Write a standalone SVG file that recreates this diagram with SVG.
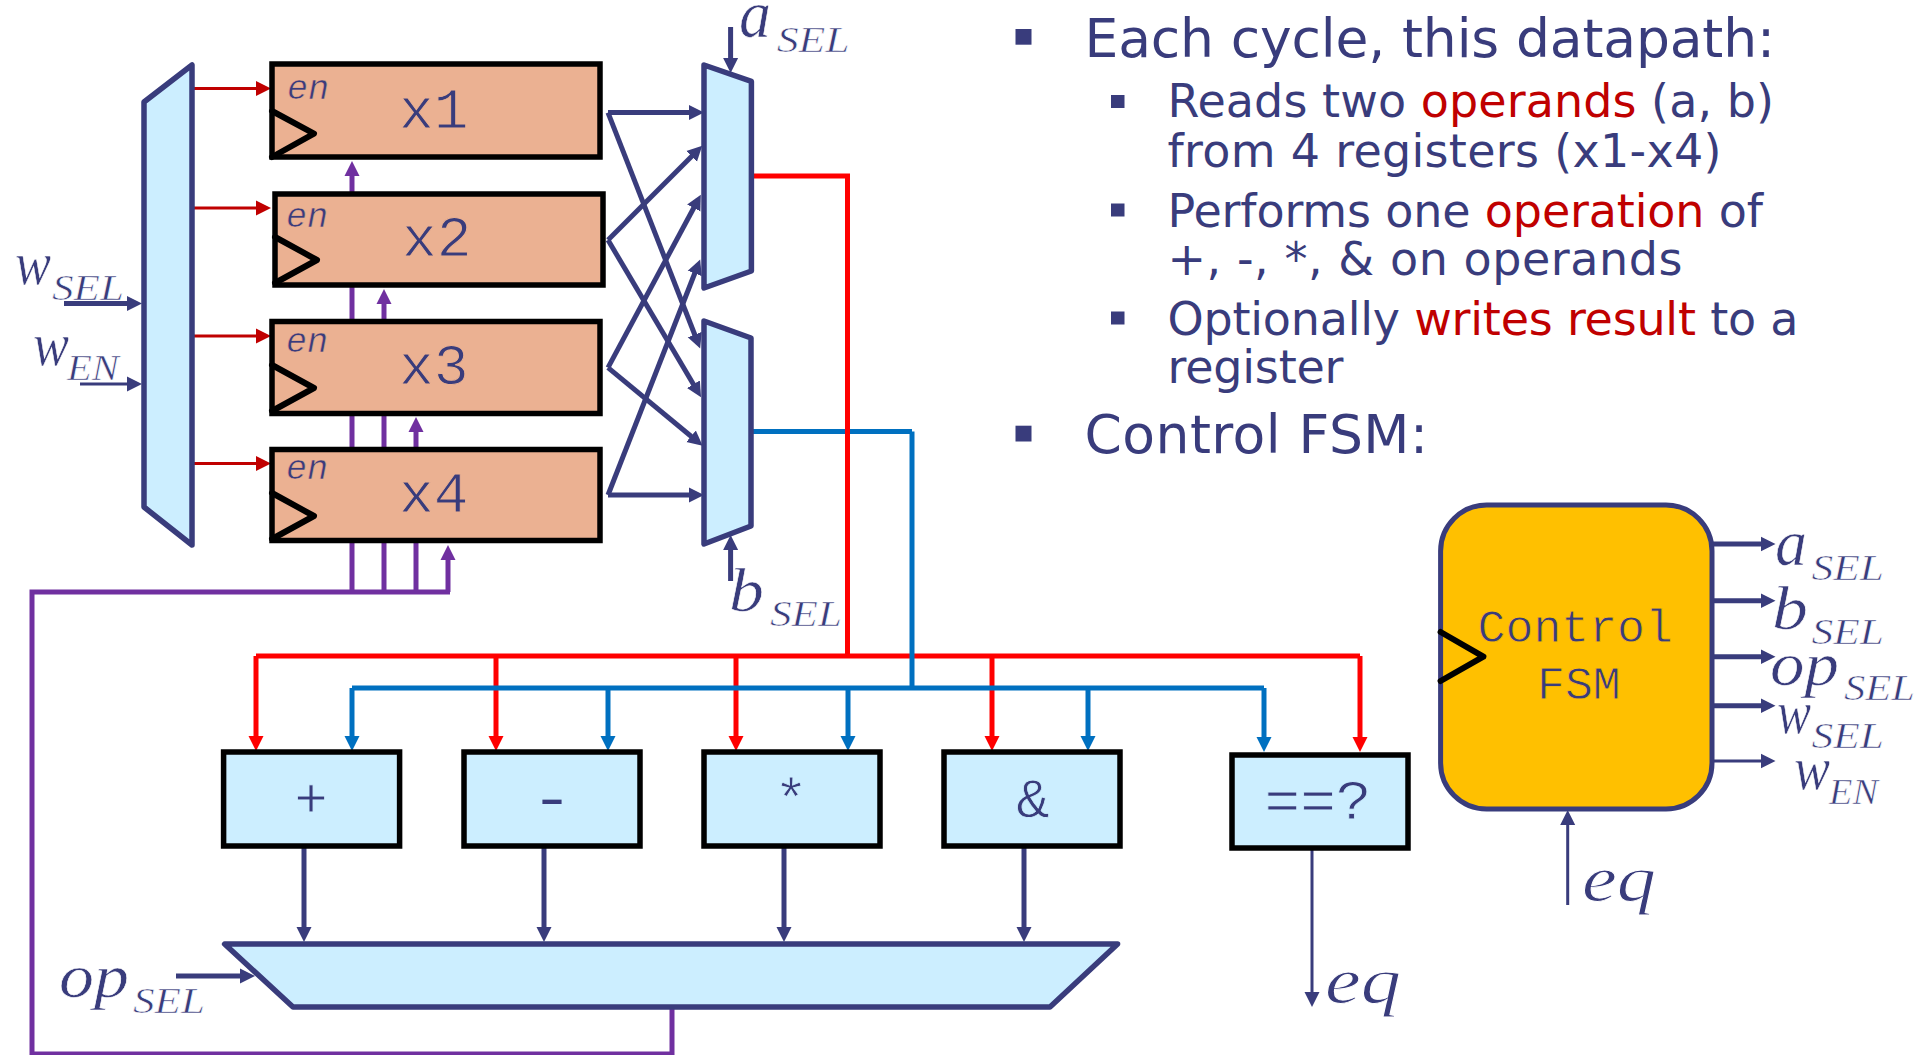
<svg xmlns="http://www.w3.org/2000/svg" width="1917" height="1055" viewBox="0 0 1917 1055">
<style>
text{fill:#393c7c}
.mono{font-family:"Liberation Mono",monospace}
.reg{font-size:58px;stroke:#ebb192;stroke-width:1}
.op{font-size:56px;stroke:#cceeff;stroke-width:.8}
.en{font-size:35px;font-style:italic;stroke:#ebb192;stroke-width:.5}
.ctl{font-size:46.5px;stroke:#ffc000;stroke-width:.8}
.sym{font-family:"Liberation Serif",serif;font-style:italic;stroke:#fff;stroke-width:.6}
.big{font-size:62px}
.sub{font-size:36px}
.eq{font-size:66px;stroke-width:.9}
.bul{font-family:"DejaVu Sans",sans-serif}
.l1{font-size:53.5px}
.l2{font-size:46px}
.hot{fill:#c00000}
.sq{fill:#393c7c}
.regbox{fill:#ebb192;stroke:#000;stroke-width:5.5}
.alu{fill:#cceeff;stroke:#000;stroke-width:5.5}
.mux{fill:#cceeff;stroke:#393c7c;stroke-width:5.5;stroke-linejoin:round}
.clk{fill:none;stroke:#000;stroke-width:6;stroke-linecap:round;stroke-linejoin:round}
.w{fill:none;stroke-linejoin:miter}
.navy{stroke:#393c7c;stroke-width:5}
.thin{stroke:#393c7c;stroke-width:3}
.red{stroke:#f00;stroke-width:5}
.blue{stroke:#0070c0;stroke-width:5}
.pur{stroke:#7030a0;stroke-width:5}
.dred{stroke:#c00000;stroke-width:3}
.an{marker-end:url(#hn)}
.ar{marker-end:url(#hr)}
.ab{marker-end:url(#hb)}
.ap{marker-end:url(#hp)}
.ad{marker-end:url(#hd)}
</style>
<defs>
<marker id="hn" markerUnits="userSpaceOnUse" markerWidth="16" markerHeight="16" refX="9" refY="8" orient="auto"><path d="M0,0.5L15,8L0,15.5z" fill="#393c7c"/></marker>
<marker id="hr" markerUnits="userSpaceOnUse" markerWidth="16" markerHeight="16" refX="9" refY="8" orient="auto"><path d="M0,0.5L15,8L0,15.5z" fill="#f00"/></marker>
<marker id="hb" markerUnits="userSpaceOnUse" markerWidth="16" markerHeight="16" refX="9" refY="8" orient="auto"><path d="M0,0.5L15,8L0,15.5z" fill="#0070c0"/></marker>
<marker id="hp" markerUnits="userSpaceOnUse" markerWidth="16" markerHeight="16" refX="9" refY="8" orient="auto"><path d="M0,0.5L15,8L0,15.5z" fill="#7030a0"/></marker>
<marker id="hd" markerUnits="userSpaceOnUse" markerWidth="16" markerHeight="16" refX="9" refY="8" orient="auto"><path d="M0,0.5L15,8L0,15.5z" fill="#c00000"/></marker>
</defs>

<g id="connectors" class="w">
<path class="dred ad" d="M192,88.5H265"/>
<path class="dred ad" d="M192,208H265"/>
<path class="dred ad" d="M192,336H265"/>
<path class="dred ad" d="M192,463.6H265"/>
<path class="navy an" d="M64,303.5H136"/>
<path class="thin an" d="M80,384H136"/>
<path class="pur" d="M672,1007V1054H32V592H450M352,592V540M384,592V540M416,592V540"/>
<path class="pur ap" d="M352,198V167"/>
<path class="pur" d="M352,286V322"/>
<path class="pur ap" d="M384,322V295"/>
<path class="pur" d="M352,414V450M384,414V450"/>
<path class="pur ap" d="M416,450V423"/>
<path class="pur ap" d="M448,592V551"/>
<path class="navy an" d="M608,112.6H698"/>
<path class="navy an" d="M608,112.6L698,343"/>
<path class="navy an" d="M608,240L698,150"/>
<path class="navy an" d="M608,240L698,392"/>
<path class="navy an" d="M608,367.6L698,200"/>
<path class="navy an" d="M608,367.6L698,442"/>
<path class="navy an" d="M608,495L698,265"/>
<path class="navy an" d="M608,495H698"/>
<path class="navy an" d="M730.6,27V67"/>
<path class="navy an" d="M730.6,581V541"/>
<path class="blue" d="M752,431.6H912"/>
<path class="red" d="M752,176H847.5V656"/>
<path class="red" d="M256,656H1360"/>
<path class="red ar" d="M256,656V745"/>
<path class="red ar" d="M496,656V745"/>
<path class="red ar" d="M736,656V745"/>
<path class="red ar" d="M992,656V745"/>
<path class="red ar" d="M1360,656V746"/>
<path class="blue" d="M912,431.6V688M352,688H1264"/>
<path class="blue ab" d="M352,688V745"/>
<path class="blue ab" d="M608,688V745"/>
<path class="blue ab" d="M848,688V745"/>
<path class="blue ab" d="M1088,688V745"/>
<path class="blue ab" d="M1264,688V746"/>
<path class="navy an" d="M304,848V936"/>
<path class="navy an" d="M544,848V936"/>
<path class="navy an" d="M784,848V936"/>
<path class="navy an" d="M1024,848V936"/>
<path class="navy an" d="M176,976H249"/>
<path class="thin an" d="M1312,848V1001"/>
<path class="navy an" d="M1712,544H1769.5"/>
<path class="navy an" d="M1712,600.7H1769.5"/>
<path class="navy an" d="M1712,656.7H1769.5"/>
<path class="navy an" d="M1712,705.7H1769.5"/>
<path class="thin an" d="M1712,761H1769.5"/>
<path class="thin an" d="M1567.7,905V816"/>
</g>

<g id="write-decoder">
<polygon class="mux" points="192,65 192,545 144,507 144,102"/>
<text class="sym big" x="15" y="284" textLength="36" lengthAdjust="spacingAndGlyphs">w</text>
<text class="sym sub" x="52" y="300" textLength="72" lengthAdjust="spacingAndGlyphs">SEL</text>
<text class="sym big" x="33" y="365" textLength="36" lengthAdjust="spacingAndGlyphs">w</text>
<text class="sym sub" x="67" y="379.5" textLength="52" lengthAdjust="spacingAndGlyphs">EN</text>
</g>

<g id="reg-x1">
<rect class="regbox" x="272" y="64" width="328" height="93"/>
<polyline class="clk" points="272,111 314,133.6 272,157"/>
<text class="mono en" x="287" y="99">en</text>
<text class="mono reg" x="399" y="128">x1</text>
</g>
<g id="reg-x2">
<rect class="regbox" x="275" y="194" width="328" height="91"/>
<polyline class="clk" points="275,237 317,260 275,283"/>
<text class="mono en" x="286" y="227">en</text>
<text class="mono reg" x="402" y="256">x2</text>
</g>
<g id="reg-x3">
<rect class="regbox" x="272" y="321.5" width="328" height="92"/>
<polyline class="clk" points="272,365 314,388 272,411"/>
<text class="mono en" x="286" y="352">en</text>
<text class="mono reg" x="399" y="384">x3</text>
</g>
<g id="reg-x4">
<rect class="regbox" x="272" y="449.5" width="328" height="91"/>
<polyline class="clk" points="272,493 314,516 272,539"/>
<text class="mono en" x="286" y="479">en</text>
<text class="mono reg" x="399" y="512">x4</text>
</g>

<g id="mux-a">
<polygon class="mux" points="704,65 751.4,81.4 751.4,271 704,288"/>
<text class="sym" font-size="68" x="739" y="37" textLength="32" lengthAdjust="spacingAndGlyphs">a</text>
<text class="sym sub" x="776.7" y="52" textLength="73" lengthAdjust="spacingAndGlyphs">SEL</text>
</g>
<g id="mux-b">
<polygon class="mux" points="704,321 751,338 751,526 704,544"/>
<text class="sym big" x="729" y="611" textLength="35" lengthAdjust="spacingAndGlyphs">b</text>
<text class="sym sub" x="770" y="626" textLength="72" lengthAdjust="spacingAndGlyphs">SEL</text>
</g>

<g id="alu-add">
<rect class="alu" x="223.6" y="752" width="176" height="94"/>
<text class="mono op" x="311" y="817" text-anchor="middle">+</text>
</g>
<g id="alu-sub">
<rect class="alu" x="464" y="752" width="176" height="94"/>
<text class="mono op" x="552" y="817" text-anchor="middle" textLength="42" lengthAdjust="spacingAndGlyphs" style="stroke-width:0">-</text>
</g>
<g id="alu-mul">
<rect class="alu" x="704" y="752" width="176" height="94"/>
<text class="mono op" x="791" y="817" text-anchor="middle">*</text>
</g>
<g id="alu-and">
<rect class="alu" x="944" y="752" width="176" height="94"/>
<text class="mono op" x="1033" y="817" text-anchor="middle">&amp;</text>
</g>
<g id="alu-eq">
<rect class="alu" x="1232" y="755" width="176" height="93"/>
<text class="mono op" x="1318" y="819" text-anchor="middle" textLength="107" lengthAdjust="spacingAndGlyphs">==?</text>
</g>

<g id="mux-op">
<polygon class="mux" points="224.6,944 1117.6,944 1050,1007 293,1007"/>
<text class="sym big" x="59" y="997" textLength="70" lengthAdjust="spacingAndGlyphs">op</text>
<text class="sym sub" x="133" y="1013" textLength="72" lengthAdjust="spacingAndGlyphs">SEL</text>
</g>
<text id="label-eq" class="sym eq" x="1325" y="1003" textLength="76" lengthAdjust="spacingAndGlyphs">eq</text>

<g id="control-fsm">
<rect x="1440.6" y="505" width="271.4" height="304" rx="46" ry="46" fill="#ffc000" stroke="#393c7c" stroke-width="5"/>
<polyline class="clk" points="1440.6,632 1483.4,656.7 1440.6,681"/>
<text class="mono ctl" x="1477.6" y="642">Control</text>
<text class="mono ctl" x="1537" y="698.5">FSM</text>
</g>
<g id="fsm-labels">
<text class="sym" font-size="66" x="1775" y="565" textLength="32" lengthAdjust="spacingAndGlyphs">a</text>
<text class="sym sub" x="1811.5" y="580" textLength="72.5" lengthAdjust="spacingAndGlyphs">SEL</text>
<text class="sym big" x="1772" y="629" textLength="36" lengthAdjust="spacingAndGlyphs">b</text>
<text class="sym sub" x="1811.5" y="644" textLength="72.5" lengthAdjust="spacingAndGlyphs">SEL</text>
<text class="sym big" x="1770" y="685" textLength="69" lengthAdjust="spacingAndGlyphs">op</text>
<text class="sym sub" x="1844" y="700" textLength="71" lengthAdjust="spacingAndGlyphs">SEL</text>
<text class="sym big" x="1777" y="733" textLength="34" lengthAdjust="spacingAndGlyphs">w</text>
<text class="sym sub" x="1811.5" y="748" textLength="72.5" lengthAdjust="spacingAndGlyphs">SEL</text>
<text class="sym big" x="1794" y="789" textLength="36" lengthAdjust="spacingAndGlyphs">w</text>
<text class="sym sub" x="1829" y="804" textLength="49" lengthAdjust="spacingAndGlyphs">EN</text>
<text class="sym eq" x="1582" y="900.7" textLength="74" lengthAdjust="spacingAndGlyphs">eq</text>
</g>

<g id="notes" class="bul">
<rect class="sq" x="1015.5" y="29" width="16" height="15.7"/>
<text class="l1" x="1084.5" y="56.5" textLength="690.5">Each cycle, this datapath:</text>
<rect class="sq" x="1111" y="95" width="13.5" height="13"/>
<text class="l2" x="1167.5" y="117.4" textLength="606.5">Reads two <tspan class="hot">operands</tspan> (a, b)</text>
<text class="l2" x="1167.5" y="166.8" textLength="554">from 4 registers (x1-x4)</text>
<rect class="sq" x="1111" y="203.5" width="13.5" height="13"/>
<text class="l2" x="1167.5" y="226.5" textLength="595.5">Performs one <tspan class="hot">operation</tspan> of</text>
<text class="l2" x="1167.5" y="275" textLength="515">+, -, *, &amp; on operands</text>
<rect class="sq" x="1111" y="311.5" width="13.5" height="13"/>
<text class="l2" x="1167.5" y="335" textLength="631">Optionally <tspan class="hot">writes result</tspan> to a</text>
<text class="l2" x="1167.5" y="383.4" textLength="176">register</text>
<rect class="sq" x="1015.5" y="425.7" width="16" height="15.8"/>
<text class="l1" x="1084.5" y="452.6" textLength="343.5">Control FSM:</text>
</g>
</svg>
